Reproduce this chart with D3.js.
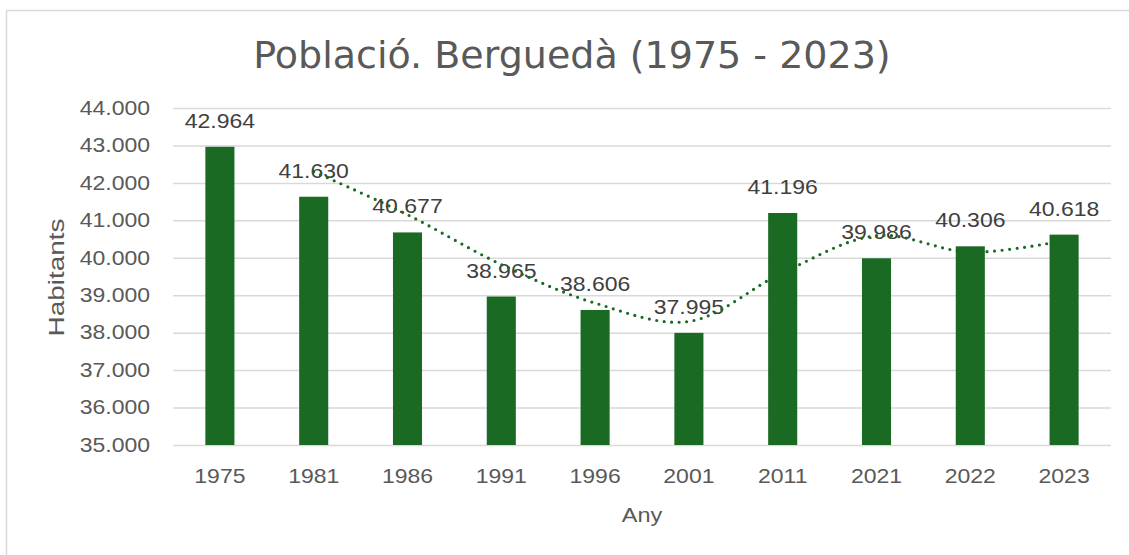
<!DOCTYPE html>
<html>
<head>
<meta charset="utf-8">
<script src="https://cdn.jsdelivr.net/npm/d3@7"></script>
<style>
  body { margin: 0; background: #fff; }
  svg { display: block; }
  .tick text { font-family: "Liberation Sans", Arial, sans-serif; font-size: 19.5px; fill: #595959; }
  .grid-line { stroke: #d9d9d9; stroke-width: 1.5; }
  .label { font-family: "Liberation Sans", Arial, sans-serif; font-size: 19.5px; fill: #404040; text-anchor: middle; }
  .axis-title { font-family: "Liberation Sans", Arial, sans-serif; font-size: 21px; fill: #595959; text-anchor: middle; }
  .title { font-family: "DejaVu Sans", Verdana, sans-serif; font-size: 38px; fill: #595959; text-anchor: middle; }
</style>
</head>
<body>
<script>
const width = 1129, height = 555;
const margin = {top: 108, right: 18, bottom: 110, left: 173};
const stretch = 1.18; // les lletres de l'original són més amples

const years = ["1975", "1981", "1986", "1991", "1996", "2001", "2011", "2021", "2022", "2023"];
const population = [42964, 41630, 40677, 38965, 38606, 37995, 41196, 39986, 40306, 40618];
// mitjana mòbil (2 períodes), llegida del gràfic
const trendYears = ["1981", "1986", "1991", "1996", "2001", "2011", "2021", "2022", "2023"];
const trendValues = [42300, 41150, 39820, 38790, 38300, 39600, 40590, 40150, 40460];
const yTicks = [35000, 36000, 37000, 38000, 39000, 40000, 41000, 42000, 43000, 44000];

const fmt = d3.format(",.0f");
const dot = (v) => fmt(v).replace(/,/g, ".");

const svg = d3.select("body").append("svg")
.attr("width", width)
.attr("height", height);

// marc del gràfic
svg.append("rect")
.attr("x", 6.5)
.attr("y", 10.5)
.attr("width", width + 20)
.attr("height", height + 20)
.attr("fill", "none")
.attr("stroke", "#d9d9d9")
.attr("stroke-width", 1.5);

const scaleX = d3.scaleBand()
.domain(years)
.range([margin.left, width - margin.right])
.paddingInner(0.69)
.paddingOuter(0.345);

const scaleY = d3.scaleLinear()
.domain([35000, 44000])
.range([height - margin.bottom, margin.top]);

const axisY = d3.axisLeft(scaleY)
.tickValues(yTicks)
.tickSize(0)
.tickPadding(23)
.tickFormat(dot);

const gy = svg.append("g")
.attr("class", "axisY")
.attr("transform", `translate(${margin.left}, 0)`)
.call(axisY);
gy.select(".domain").remove();
gy.selectAll(".tick text")
.attr("x", -23 / stretch)
.attr("transform", `scale(${stretch},1)`);

gy.selectAll(".tick")
.append("line")
.attr("class", "grid-line")
.attr("x1", 0)
.attr("x2", width - margin.right - margin.left);

const axisX = d3.axisBottom(scaleX).tickSize(0).tickPadding(24);
const gx = svg.append("g")
.attr("class", "axisX")
.attr("transform", `translate(0, ${height - margin.bottom})`)
.call(axisX);
gx.select(".domain").remove();
gx.selectAll(".tick text").attr("transform", `scale(${stretch},1)`);

svg.selectAll(".bar")
.data(years)
.enter()
.append("rect")
.attr("class", "bar")
.attr("x", (d) => scaleX(d))
.attr("width", scaleX.bandwidth())
.attr("y", (d, i) => scaleY(population[i]))
.attr("height", (d, i) => scaleY(35000) - scaleY(population[i]))
.attr("fill", "#1b6a24");

const line = d3.line()
.curve(d3.curveCatmullRom)
.x((d) => scaleX(d[0]) + scaleX.bandwidth() / 2)
.y((d) => scaleY(d[1]));

svg.selectAll(".label")
.data(years)
.enter()
.append("text")
.attr("class", "label")
.attr("transform", (d, i) => `translate(${scaleX(d) + scaleX.bandwidth() / 2}, ${scaleY(population[i]) - 19}) scale(${stretch},1)`)
.text((d, i) => dot(population[i]));

svg.append("path")
.attr("d", line(d3.zip(trendYears, trendValues)))
.attr("fill", "none")
.attr("stroke", "#1b6a24")
.attr("stroke-width", 3.2)
.attr("stroke-linecap", "round")
.attr("stroke-dasharray", "0 7.5");

svg.append("text")
.attr("class", "title")
.attr("x", 572)
.attr("y", 68)
.text("Població. Berguedà (1975 - 2023)");

svg.append("text")
.attr("class", "axis-title")
.attr("transform", `translate(64, ${(margin.top + height - margin.bottom) / 2 + 1}) rotate(-90) scale(1.27,1)`)
.style("font-size", "22px")
.text("Habitants");

svg.append("text")
.attr("class", "axis-title")
.attr("transform", `translate(${(margin.left + width - margin.right) / 2}, 522) scale(1.12,1)`)
.text("Any");
</script>
</body>
</html>
